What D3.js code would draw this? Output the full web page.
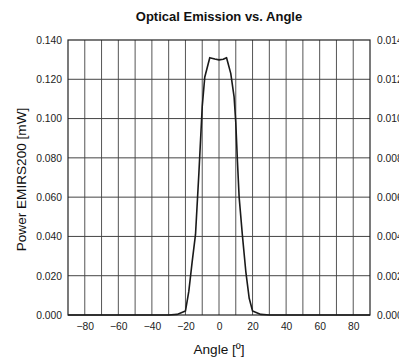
<!DOCTYPE html>
<html><head><meta charset="utf-8">
<script src="https://cdn.jsdelivr.net/npm/d3@7/dist/d3.min.js"></script>
<style>body{margin:0;background:#fff}svg{display:block}</style>
</head><body>
<script>
const title = "Optical Emission vs. Angle";
const xLabel = "Angle [º]";
const yLabel = "Power EMIRS200 [mW]";
const angles = [-90, -30, -25, -20, -18, -16, -14, -12, -10, -8.5, -7, -5.5, -2.5, 0, 2.5, 4.5, 7, 9, 10, 11, 12, 14, 16, 18, 20, 25, 30, 90];
const power  = [0, 0, 0.0003, 0.002, 0.012, 0.027, 0.041, 0.072, 0.106, 0.121, 0.126, 0.131, 0.1303, 0.1299, 0.1302, 0.131, 0.123, 0.111, 0.098, 0.078, 0.060, 0.040, 0.022, 0.0085, 0.002, 0.0003, 0, 0];
const xTicks = [-80, -60, -40, -20, 0, 20, 40, 60, 80];
const xGrid = d3.range(-80, 90, 10);
const yTicksLeft = [0, 0.02, 0.04, 0.06, 0.08, 0.10, 0.12, 0.14];
const yTicksRight = [0, 0.002, 0.004, 0.006, 0.008, 0.010, 0.012, 0.014];

const W = 399, H = 359;
const m = {left: 68, right: 370, top: 40, bottom: 315};
const svg = d3.select("body").append("svg").attr("width", W).attr("height", H)
  .style("font-family", "'Liberation Sans', Arial, sans-serif");

const x = d3.scaleLinear().domain([-90, 90]).range([m.left, m.right]);
const y = d3.scaleLinear().domain([0, 0.14]).range([m.bottom, m.top]);
const y2 = d3.scaleLinear().domain([0, 0.014]).range([m.bottom, m.top]);

// grid
svg.append("g").selectAll("line").data(xGrid).join("line")
  .attr("x1", d => x(d)).attr("x2", d => x(d)).attr("y1", m.top).attr("y2", m.bottom)
  .attr("stroke", "#555").attr("stroke-width", 1);
svg.append("g").selectAll("line").data(yTicksLeft.slice(1, -1)).join("line")
  .attr("y1", d => y(d)).attr("y2", d => y(d)).attr("x1", m.left).attr("x2", m.right)
  .attr("stroke", "#444").attr("stroke-width", 1);

// frame
svg.append("rect").attr("x", m.left).attr("y", m.top)
  .attr("width", m.right - m.left).attr("height", m.bottom - m.top)
  .attr("fill", "none").attr("stroke", "#222").attr("stroke-width", 1.2);

// axes (labels only)
const fs = "10.3px";
const gx = svg.append("g").attr("transform", `translate(0,${m.bottom})`)
  .call(d3.axisBottom(x).tickValues(xTicks).tickSize(0).tickPadding(8).tickFormat(d3.format("d")));
gx.select(".domain").remove();
gx.selectAll("text").attr("font-size", fs).attr("fill", "#222").attr("font-family", "'Liberation Sans', Arial, sans-serif");

const gy = svg.append("g").attr("transform", `translate(${m.left},0)`)
  .call(d3.axisLeft(y).tickValues(yTicksLeft).tickSize(0).tickPadding(6).tickFormat(d3.format(".3f")));
gy.select(".domain").remove();
gy.selectAll("text").attr("font-size", fs).attr("fill", "#222").attr("font-family", "'Liberation Sans', Arial, sans-serif");

const gy2 = svg.append("g").attr("transform", `translate(${m.right},0)`)
  .call(d3.axisRight(y2).tickValues(yTicksRight).tickSize(0).tickPadding(7).tickFormat(d3.format(".3f")));
gy2.select(".domain").remove();
gy2.selectAll("text").attr("font-size", fs).attr("fill", "#222").attr("font-family", "'Liberation Sans', Arial, sans-serif");

// curve
const pts = angles.map((a, i) => [a, power[i]]);
svg.append("path").datum(pts)
  .attr("d", d3.line().x(d => x(d[0])).y(d => y(d[1])))
  .attr("fill", "none").attr("stroke", "#1a1a1a").attr("stroke-width", 1.6)
  .attr("stroke-linejoin", "round");

// titles
svg.append("text").attr("x", (m.left + m.right) / 2).attr("y", 21)
  .attr("text-anchor", "middle").attr("font-weight", "bold").attr("font-size", "13px")
  .attr("fill", "#111").text(title);
svg.append("text").attr("x", (m.left + m.right) / 2).attr("y", 354)
  .attr("text-anchor", "middle").attr("font-size", "13.6px").attr("fill", "#111").text(xLabel);
svg.append("text").attr("transform", `translate(26,${(m.top + m.bottom) / 2 + 2}) rotate(-90)`)
  .attr("text-anchor", "middle").attr("font-size", "13.6px").attr("fill", "#111").text(yLabel);
</script>
</body></html>
